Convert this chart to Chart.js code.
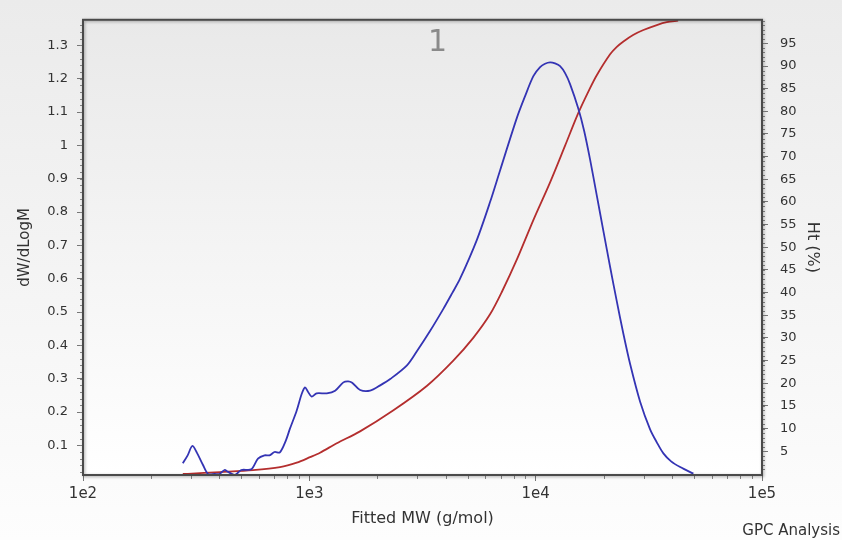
<!DOCTYPE html>
<html lang="en">
<head>
<meta charset="UTF-8" />
<title>GPC Analysis</title>
<script src="https://cdn.jsdelivr.net/npm/chart.js"></script>
<style>
  html, body { margin: 0; padding: 0; }
  body { width: 842px; height: 540px; background: linear-gradient(#ebebeb, #fdfdfd); overflow: hidden; }
  #wrap { position: relative; width: 842px; height: 540px; }
</style>
</head>
<body>
<div id="wrap"><canvas id="gpc" width="842" height="540"></canvas></div>
<script>
// dW/dLogM curve (blue)
const mwBlue = [276, 290, 304, 318, 339, 357, 382, 401, 422, 436, 468, 500, 554, 593, 634, 667, 702, 741, 788, 821,
  879, 925, 957, 986, 1024, 1077, 1194, 1300, 1414, 1484, 1546, 1676, 1856, 2056, 2277, 2700, 2991, 3414, 3898,
  4272, 4634, 5493, 6287, 6961, 8252, 8980, 9767, 10460, 11000, 11580, 12180, 12820, 13490, 14190, 15440,
  16370, 17390, 18620, 19920, 21320, 22830, 24420, 26140, 28940, 32030, 34300, 36670, 39660, 43480, 49760];
const dwdlogm = [0.046, 0.070, 0.098, 0.079, 0.041, 0.014, 0.014, 0.014, 0.026, 0.021, 0.011, 0.026, 0.028, 0.060,
  0.070, 0.070, 0.080, 0.079, 0.115, 0.150, 0.204, 0.254, 0.274, 0.261, 0.246, 0.256, 0.256, 0.264, 0.289, 0.292,
  0.288, 0.266, 0.264, 0.280, 0.299, 0.340, 0.383, 0.443, 0.508, 0.556, 0.600, 0.716, 0.830, 0.925, 1.082, 1.148,
  1.208, 1.235, 1.245, 1.249, 1.246, 1.238, 1.217, 1.184, 1.110, 1.044, 0.958, 0.850, 0.743, 0.636, 0.532, 0.434,
  0.344, 0.231, 0.148, 0.109, 0.076, 0.052, 0.035, 0.015];

// cumulative Ht (%) curve (red)
const mwRed = [276, 291, 403, 564, 742, 880, 1007, 1115, 1322, 1675, 2344, 3313, 4315, 5289, 6287, 7104, 8252,
  9767, 11580, 13490, 15440, 17390, 18620, 21320, 22830, 24420, 26940, 29920, 34290, 37960, 42600];
const htPct = [0, 0, 0.39, 0.83, 1.49, 2.47, 3.68, 4.66, 6.74, 9.37, 13.97, 19.44, 24.92, 29.95, 35.2, 40.24, 47.25,
  56.0, 64.33, 72.43, 79.66, 85.13, 87.98, 92.58, 94.22, 95.42, 96.85, 97.94, 99.04, 99.67, 100];

// tick labels
const xTicks = [1e2, 1e3, 1e4, 1e5];
const yLeftTicks = [0.1, 0.2, 0.3, 0.4, 0.5, 0.6, 0.7, 0.8, 0.9, 1.0, 1.1, 1.2, 1.3];
const yRightTicks = [5, 10, 15, 20, 25, 30, 35, 40, 45, 50, 55, 60, 65, 70, 75, 80, 85, 90, 95];

const FONT = "'DejaVu Sans', Verdana, sans-serif";

// plot area gradient, frame, minor ticks, texts
const decor = {
  id: 'decor',
  beforeDraw(chart) {
    const { ctx, chartArea: a } = chart;
    const g = ctx.createLinearGradient(0, a.top, 0, a.bottom);
    g.addColorStop(0, '#e9e9e9');
    g.addColorStop(1, '#ffffff');
    ctx.save();
    ctx.fillStyle = g;
    ctx.fillRect(a.left, a.top, a.right - a.left, a.bottom - a.top);
    ctx.restore();
  },
  afterDraw(chart) {
    const { ctx, chartArea: a, scales } = chart;
    ctx.save();
    ctx.strokeStyle = '#888';
    ctx.lineWidth = 1;
    ctx.beginPath();
    // left minor ticks
    const yl = scales.y;
    for (let i = 1; i <= 68; i++) {
      const py = Math.round(yl.getPixelForValue(i * 0.02)) + 0.5;
      if (py < a.top || py > a.bottom) continue;
      ctx.moveTo(a.left - 3, py); ctx.lineTo(a.left, py);
    }
    // right minor ticks
    const yr = scales.y2;
    for (let i = 1; i <= 100; i++) {
      const py = Math.round(yr.getPixelForValue(i)) + 0.5;
      if (py < a.top || py > a.bottom) continue;
      ctx.moveTo(a.right, py); ctx.lineTo(a.right + 3, py);
    }
    // x log minor ticks
    const xs = scales.x;
    for (let d = 100; d < 1e5; d *= 10) {
      for (let k = 2; k <= 9; k++) {
        const px = Math.round(xs.getPixelForValue(d * k)) + 0.5;
        ctx.moveTo(px, a.bottom); ctx.lineTo(px, a.bottom + 4);
      }
    }
    ctx.stroke();

    // frame
    ctx.shadowColor = 'rgba(0,0,0,0.35)';
    ctx.shadowBlur = 3;
    ctx.shadowOffsetX = 1;
    ctx.shadowOffsetY = 1;
    ctx.strokeStyle = '#4a4a4a';
    ctx.lineWidth = 2;
    ctx.strokeRect(a.left, a.top, a.right - a.left, a.bottom - a.top);
    ctx.restore();

    // panel number
    ctx.save();
    ctx.fillStyle = '#8a8a8a';
    ctx.font = '30px ' + FONT;
    ctx.textAlign = 'center';
    ctx.textBaseline = 'middle';
    ctx.fillText('1', a.left + (a.right - a.left) * 0.522, a.top + 23);
    // footer
    ctx.fillStyle = '#333';
    ctx.font = '15px ' + FONT;
    ctx.textAlign = 'right';
    ctx.fillText('GPC Analysis', chart.width - 2, chart.height - 9);
    ctx.restore();
  }
};

new Chart(document.getElementById('gpc'), {
  type: 'line',
  data: {
    datasets: [
      {
        label: 'dW/dLogM',
        data: mwBlue.map((m, i) => ({ x: m, y: dwdlogm[i] })),
        borderColor: '#3434b4',
        borderWidth: 1.8,
        pointRadius: 0,
        tension: 0.3,
        yAxisID: 'y'
      },
      {
        label: 'Ht (%)',
        data: mwRed.map((m, i) => ({ x: m, y: htPct[i] })),
        borderColor: '#b42e2e',
        borderWidth: 1.8,
        pointRadius: 0,
        tension: 0.3,
        yAxisID: 'y2'
      }
    ]
  },
  options: {
    responsive: false,
    animation: false,
    devicePixelRatio: 1,
    layout: { padding: { top: 16, left: 0, right: 0, bottom: 0 } },
    plugins: { legend: { display: false }, tooltip: { enabled: false } },
    scales: {
      x: {
        type: 'logarithmic',
        min: 100,
        max: 100000,
        afterBuildTicks: s => { s.ticks = xTicks.map(v => ({ value: v })); },
        afterFit: s => { s.height = 65; },
        ticks: {
          color: '#333',
          font: { family: FONT, size: 15 },
          padding: 4,
          maxRotation: 0,
          autoSkip: false,
          callback: v => '1e' + Math.round(Math.log10(v))
        },
        grid: { drawOnChartArea: false, tickLength: 6, color: '#777' },
        border: { display: false },
        title: {
          display: true,
          text: 'Fitted MW (g/mol)',
          color: '#333',
          font: { family: FONT, size: 16 },
          padding: { top: 0, bottom: 12 }
        }
      },
      y: {
        position: 'left',
        min: 0.011,
        max: 1.377,
        afterBuildTicks: s => { s.ticks = yLeftTicks.map(v => ({ value: v })); },
        afterFit: s => { s.width = 83; },
        ticks: {
          color: '#333',
          font: { family: FONT, size: 13 },
          padding: 9,
          autoSkip: false,
          callback: v => (Math.abs(v - 1) < 1e-9 ? '1' : v.toFixed(1))
        },
        grid: { drawOnChartArea: false, tickLength: 6, color: '#777' },
        border: { display: false },
        title: {
          display: true,
          text: 'dW/dLogM',
          color: '#333',
          font: { family: FONT, size: 15 },
          padding: { top: 16, bottom: 0 }
        }
      },
      y2: {
        position: 'right',
        min: -0.26,
        max: 100.2,
        afterBuildTicks: s => { s.ticks = yRightTicks.map(v => ({ value: v })); },
        afterFit: s => { s.width = 80; },
        ticks: {
          color: '#333',
          font: { family: FONT, size: 13 },
          padding: 12,
          autoSkip: false,
          callback: v => String(v)
        },
        grid: { drawOnChartArea: false, tickLength: 6, color: '#777' },
        border: { display: false },
        title: {
          display: true,
          text: 'Ht (%)',
          color: '#333',
          font: { family: FONT, size: 16 },
          padding: { top: 20, bottom: 0 }
        }
      }
    }
  },
  plugins: [decor]
});
</script>
</body>
</html>
